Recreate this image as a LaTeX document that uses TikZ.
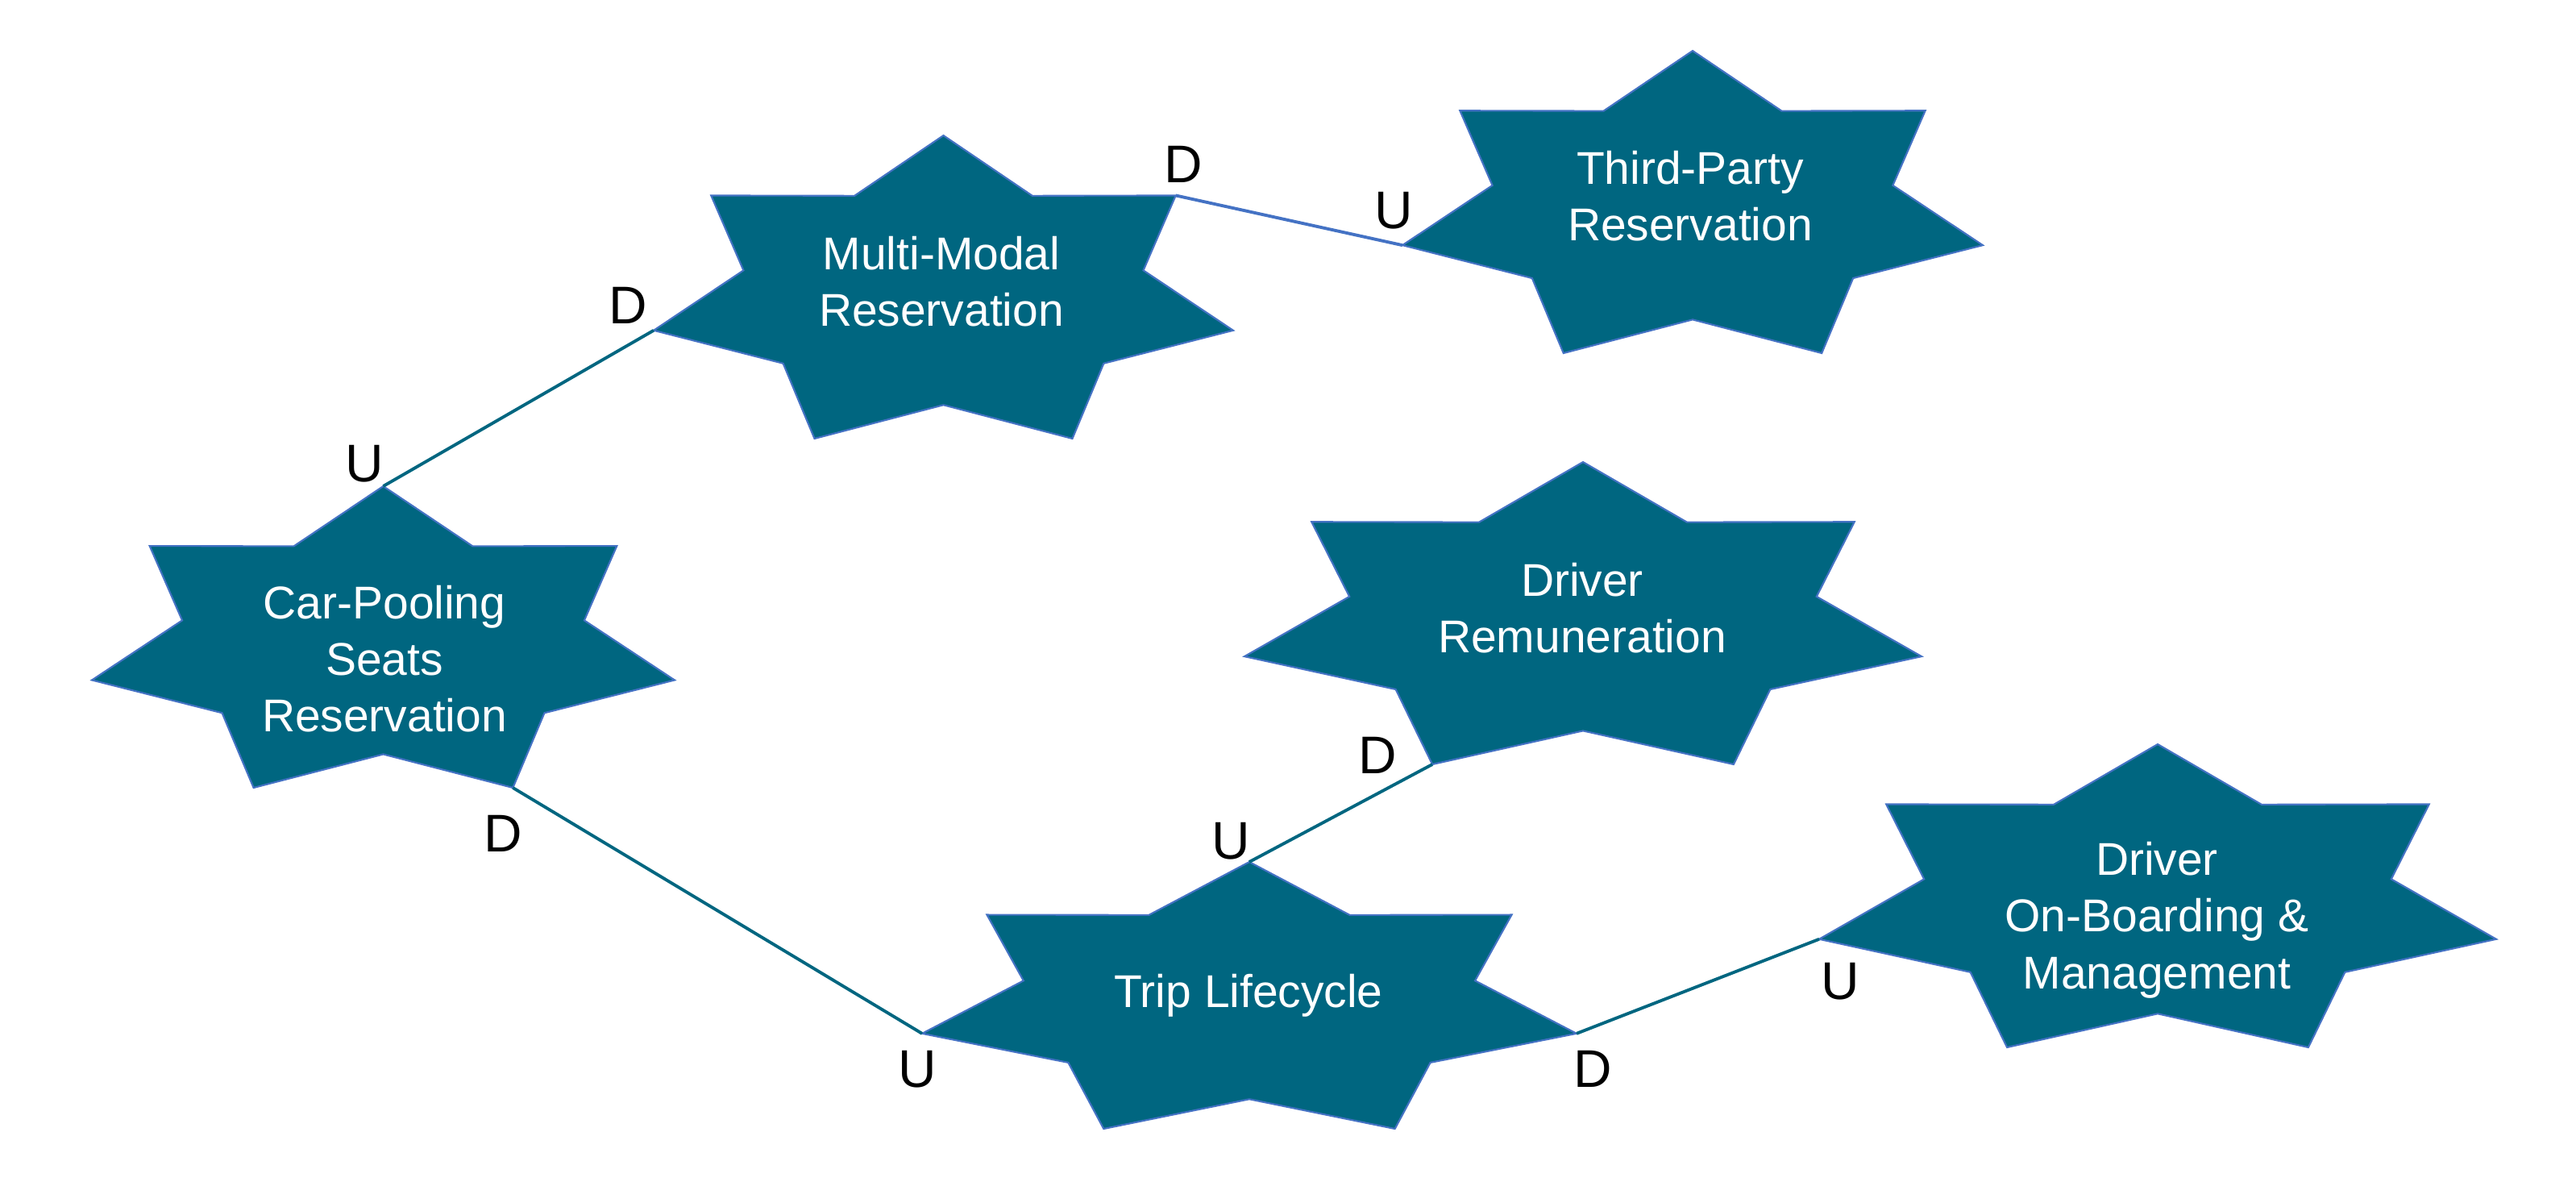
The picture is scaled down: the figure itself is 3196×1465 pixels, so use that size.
\documentclass[tikz,border=0pt]{standalone}
\usepackage{fontspec}
\setmainfont{Liberation Sans}
\definecolor{starfill}{HTML}{006680}
\definecolor{starline}{HTML}{4472C4}
\definecolor{tealline}{HTML}{006680}
\tikzset{
  starshape/.style={fill=starfill, draw=starline, line width=0.6pt, line join=miter},
  startext/.style={text=white, align=center, inner sep=0pt, font=\fontsize{16.2}{20}\selectfont},
  udlabel/.style={text=black, inner sep=0pt, font=\fontsize{18.7}{22}\selectfont},
  conn/.style={draw=tealline, line width=1.1pt},
  connblue/.style={draw=starline, line width=1.1pt}
}
% #1 name, #2 left, #3 top, #4 width, #5 height (px)
\newcommand{\heptastar}[5]{%
  \begin{scope}[shift={(#2,#3)}, xscale=#4, yscale=#5]
    \draw[starshape] (0.5,0) -- (0.6535,0.199) -- (0.9009,0.198) -- (0.845,0.445)
      -- (1,0.643) -- (0.7766,0.752) -- (0.7225,1) -- (0.5,0.889)
      -- (0.2775,1) -- (0.2234,0.752) -- (0,0.643) -- (0.155,0.445)
      -- (0.0991,0.198) -- (0.3465,0.199) -- cycle;
    \coordinate (#1-top) at (0.5,0);
    \coordinate (#1-UR) at (0.9009,0.198);
    \coordinate (#1-R) at (1,0.643);
    \coordinate (#1-LR) at (0.7225,1);
    \coordinate (#1-LL) at (0.2775,1);
    \coordinate (#1-L) at (0,0.643);
  \end{scope}}
\begin{document}
\begin{tikzpicture}[x=0.01cm, y=-0.01cm]
\useasboundingbox (0,0) rectangle (3196,1465);
\fill[white] (0,0) rectangle (3196,1465);

\heptastar{cp}{114}{603}{723}{374}
\heptastar{mm}{811}{168}{719}{376}
\heptastar{tp}{1740}{63}{720}{375}
\heptastar{dr}{1544}{573}{840}{375}
\heptastar{tl}{1144}{1069}{812}{331}
\heptastar{ob}{2257}{923}{840}{376}

\node[startext] (cpT) at (477,817) {Car-Pooling\\Seats\\Reservation};
\node[startext] (mmT) at (1168,349) {Multi-Modal\\Reservation};
\node[startext] (tpT) at (2097,243) {Third-Party\\Reservation};
\node[startext] (drT) at (1963,754) {Driver\\Remuneration};
\node[startext] (tlT) at (1549,1235) {Trip Lifecycle};
\node[startext] (obT) at (2676,1141) {Driver\\On-Boarding \&\\Management};

\draw[conn] (cp-top) -- (mm-L);
\draw[connblue] (mm-UR) -- (tp-L);
\draw[conn] (cp-LR) -- (tl-L);
\draw[conn] (tl-top) -- (dr-LL);
\draw[conn] (tl-R) -- (ob-L);

\node[udlabel] (u1) at (452,575) {U};
\node[udlabel] (d1) at (779,379) {D};
\node[udlabel] (d2) at (1468,204) {D};
\node[udlabel] (u2) at (1729,261) {U};
\node[udlabel] (d3) at (624,1034) {D};
\node[udlabel] (u3) at (1138,1326) {U};
\node[udlabel] (u4) at (1527,1043) {U};
\node[udlabel] (d4) at (1709,937) {D};
\node[udlabel] (d5) at (1976,1326) {D};
\node[udlabel] (u5) at (2283,1217) {U};
\end{tikzpicture}
\end{document}
